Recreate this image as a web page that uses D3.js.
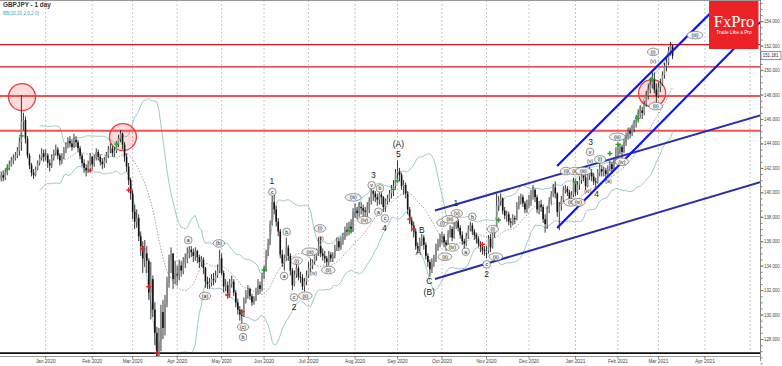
<!DOCTYPE html>
<html><head><meta charset="utf-8">
<script src="https://cdn.jsdelivr.net/npm/d3@7/dist/d3.min.js"></script>
<style>body{margin:0;background:#fff}svg{display:block}text{font-family:Arial,"Liberation Sans",sans-serif}</style>
</head><body><svg id="c" width="782" height="366"></svg>
<script>
// ---------- DATA ----------
const symbol = "GBPJPY - 1 day";
const indicatorName = "BB(20,20,2,0,2.0)";
const startDate = "2019-12-02";
const endAxisDate = "2021-04-30";
const firstOpen = 141.1;
const closes = [
141.4,141.2,141.6,142.0,142.3,142.6,142.8,143.0,143.4,144.1,145.8,145.9,144.4,143.0,142.2,141.6,141.4,141.9,142.4,142.8,143.2,142.9,
143.0,142.4,142.2,142.8,143.2,143.5,143.0,142.6,142.9,143.4,143.8,144.2,144.0,143.7,144.3,144.1,143.6,143.0,142.4,142.0,141.8,142.3,142.9,
142.3,142.8,143.3,142.9,142.5,142.3,142.6,143.0,143.5,143.6,143.2,143.4,143.9,144.4,144.8,143.9,142.9,142.1,141.0,139.9,
138.4,137.6,137.9,136.4,135.6,134.6,135.0,134.4,131.8,132.9,130.4,128.5,126.0,127.8,130.2,128.9,130.9,132.6,134.5,135.0,132.9,133.3,
133.2,134.0,133.6,134.2,134.6,135.0,135.3,135.1,134.8,135.2,134.7,134.3,134.5,133.8,132.7,132.5,132.6,132.9,132.8,133.2,133.6,134.6,
133.4,132.3,132.4,131.7,132.5,132.7,131.8,131.0,130.4,130.0,129.9,131.2,131.6,132.1,131.5,131.0,131.2,131.9,132.4,132.1,133.2,
133.6,134.9,135.8,137.4,139.2,138.6,137.6,136.8,134.9,134.2,134.6,135.5,134.8,133.6,132.4,133.3,133.8,133.1,133.0,132.3,132.7,133.2,
133.8,134.0,134.3,134.8,135.0,135.6,135.0,134.8,134.6,134.3,134.9,134.6,134.8,135.4,136.0,135.5,136.0,136.3,136.9,136.8,137.2,137.0,138.4,
138.5,138.3,138.8,138.7,138.5,138.4,138.6,139.3,140.1,139.9,139.6,139.4,139.8,139.6,138.8,139.3,139.5,139.9,140.3,140.5,141.6,
141.7,141.4,140.5,140.6,139.9,138.6,137.7,137.3,136.8,135.6,135.4,136.0,136.3,135.7,134.8,134.3,133.7,134.2,134.6,135.5,135.8,136.3,
136.4,135.9,135.7,136.6,137.0,136.3,137.2,137.6,137.1,136.5,136.0,135.8,136.4,137.0,137.3,136.8,136.5,136.2,135.8,135.6,135.3,135.2,
135.2,136.2,135.5,136.6,136.9,138.9,139.3,139.5,138.5,138.1,138.2,137.6,137.5,137.9,137.8,138.9,139.3,139.6,139.1,138.6,139.0,
139.2,139.8,140.2,139.6,138.6,139.0,138.8,137.8,137.4,138.6,139.3,139.8,140.4,139.9,138.4,138.9,139.4,140.2,140.3,140.0,139.3,139.8,140.9,
140.0,140.6,141.0,141.4,141.2,140.5,141.4,141.6,141.3,140.9,140.8,141.6,141.9,141.7,141.8,141.5,141.9,142.3,141.9,142.5,142.9,
143.4,143.7,143.3,144.1,144.6,145.0,144.8,145.2,145.6,145.9,146.3,146.7,146.5,147.2,147.9,148.4,148.8,149.3,148.4,147.9,
148.6,148.9,149.6,150.3,150.6,151.6,152.0,151.18];
const highs = [
141.7,141.8,141.9,142.3,142.6,142.9,143.1,143.3,143.7,144.5,147.96,146.5,146.2,144.6,143.2,142.4,141.9,142.1,142.6,143.1,143.6,143.5,
143.5,143.2,142.7,143.1,143.5,143.9,143.7,143.2,143.2,143.7,144.1,144.5,144.6,144.3,144.8,144.6,144.3,143.8,143.2,142.7,142.3,142.6,143.2,
143.0,143.1,143.6,143.5,143.1,142.8,142.9,143.3,143.8,144.0,143.8,143.7,144.2,144.7,145.1,144.9,144.1,143.2,142.4,141.2,
140.2,139.0,138.6,138.2,136.8,136.0,136.1,135.6,134.6,134.3,133.2,131.0,129.0,128.9,130.8,131.2,131.6,133.1,134.9,135.5,134.7,134.4,
134.0,134.5,134.4,134.7,135.0,135.5,135.6,135.6,135.4,135.5,135.3,134.9,134.8,134.7,133.9,133.1,133.0,133.3,133.4,133.6,134.1,135.3,
135.0,133.6,132.9,132.7,132.9,133.2,132.9,132.0,131.3,130.7,130.4,131.4,132.0,132.4,132.2,131.7,131.5,132.2,132.9,132.7,133.4,
134.0,135.3,136.2,137.7,139.7,139.8,138.9,137.9,137.0,135.3,134.9,136.3,135.7,135.0,133.8,133.6,134.3,134.0,133.5,133.3,133.0,133.6,
134.3,134.6,134.5,135.2,135.4,136.3,136.4,135.4,135.2,134.8,135.2,135.1,135.1,135.7,136.3,136.3,136.4,136.7,137.2,137.5,137.6,137.8,138.7,
139.1,138.8,139.2,139.2,139.0,138.8,139.2,139.6,140.3,140.2,140.1,139.9,140.0,140.0,139.7,139.5,139.8,140.2,140.6,141.0,141.9,
142.6,142.0,141.6,141.0,140.8,140.1,138.8,138.0,137.6,137.0,135.9,136.3,136.6,136.5,135.9,135.0,134.5,134.6,134.9,135.8,136.2,136.6,
136.8,136.6,136.1,136.9,137.3,137.2,137.5,138.0,137.8,137.3,136.8,136.2,136.7,137.3,137.6,137.5,137.0,136.7,136.4,136.0,135.9,135.6,
135.6,136.5,136.6,136.9,137.2,139.9,139.7,139.9,139.6,138.8,138.5,138.4,137.9,138.2,138.1,139.2,139.7,139.9,139.8,139.3,139.4,
139.8,140.2,140.6,140.3,139.8,139.3,139.4,139.0,138.2,138.9,139.6,140.1,140.7,140.9,140.0,139.2,139.7,140.5,140.6,140.5,140.2,140.1,141.2,
141.1,140.9,141.3,141.8,141.9,141.4,141.7,142.1,141.9,141.6,141.2,141.9,142.4,142.2,142.1,142.0,142.2,142.6,142.5,142.8,143.7,
143.9,144.0,143.9,144.4,144.9,145.3,145.3,145.5,145.9,146.3,146.8,147.1,147.0,147.5,148.3,148.9,149.4,150.0,149.8,148.9,
149.0,149.3,149.9,150.6,151.0,151.9,152.3,152.1];
const lows = [
140.9,140.9,141.0,141.4,141.8,142.1,142.3,142.6,142.8,143.0,143.4,145.1,144.0,142.8,141.9,141.3,141.1,141.3,141.8,142.2,142.6,142.5,
142.6,142.0,141.7,142.0,142.6,143.0,142.7,142.2,142.3,142.7,143.2,143.6,143.7,143.4,143.6,143.7,143.3,142.7,142.1,141.6,141.3,141.6,142.1,
141.9,142.1,142.6,142.6,142.2,141.9,142.0,142.4,142.8,143.2,142.9,142.9,143.2,143.7,144.1,143.5,142.5,141.7,140.6,139.4,
137.8,137.0,137.1,136.0,134.8,133.4,133.9,133.4,131.2,129.6,129.8,127.5,124.5,123.9,127.0,128.0,128.3,130.6,132.2,133.4,132.1,132.5,
132.4,132.8,133.1,133.3,133.8,134.2,134.6,134.7,134.3,134.4,134.2,133.8,133.9,133.3,132.2,132.1,132.1,132.3,132.4,132.6,133.0,133.4,
133.2,131.8,131.9,131.3,131.4,132.2,131.5,130.6,130.0,129.5,129.3,129.8,130.9,131.3,131.2,130.7,130.8,131.1,131.6,131.7,131.9,
132.9,133.5,134.8,135.7,137.3,138.2,137.2,136.4,134.6,133.9,133.6,134.4,134.4,133.2,132.0,132.3,133.0,132.8,132.6,132.0,131.9,132.4,
133.0,133.5,133.7,134.1,134.4,134.8,134.7,134.4,134.2,133.9,134.0,134.3,134.3,134.6,135.2,135.2,135.3,135.7,136.1,136.4,136.5,136.7,136.8,
137.9,137.8,138.0,138.2,137.9,137.9,138.0,138.3,139.0,139.3,139.2,138.9,139.0,139.0,138.4,138.4,139.0,139.2,139.5,139.7,140.3,
141.0,140.9,140.2,139.8,139.5,138.2,137.4,136.8,136.3,135.3,135.0,135.2,135.6,135.3,134.5,133.9,133.1,133.4,133.9,134.3,135.2,135.5,
135.8,135.5,135.2,135.6,136.3,136.0,136.2,137.0,136.8,136.2,135.7,135.4,135.6,136.2,136.8,136.5,136.1,135.8,135.5,135.1,134.9,134.8,
134.6,135.0,135.1,135.4,136.3,136.8,138.5,138.9,138.2,137.8,137.6,137.3,137.1,137.3,137.4,137.7,138.6,139.0,138.8,138.3,138.3,
138.7,138.9,139.4,139.2,138.3,138.2,138.4,137.5,136.7,137.0,138.3,139.0,139.6,139.5,138.0,136.9,138.5,139.2,139.9,139.7,139.0,139.1,139.6,
139.7,139.8,140.2,140.7,140.9,140.2,140.4,141.0,140.9,140.6,140.4,140.7,141.3,141.3,141.3,141.1,141.2,141.7,141.5,141.8,142.3,
142.8,143.1,142.8,143.2,143.8,144.3,144.4,144.6,144.9,145.3,145.7,146.1,146.0,146.3,147.0,147.6,148.1,148.5,148.1,147.3,
147.7,148.2,148.7,149.3,149.9,150.4,151.2,150.9];
const yTicks = [128,130,132,134,136,138,140,142,144,146,148,150,152,154];
const lastPrice = 151.181;
const redLevels = [152.08, 150.26, 147.89, 145.03];
const bottomLevel = 126.85;
// trend lines: [barIndex, price] pairs
const trendLines = [
  {a:[214.5,138.51], b:[375.3,146.29], kind:"navy"},
  {a:[214.5,132.91], b:[375.3,140.82], kind:"navy"},
  {a:[274.9,142.15], b:[357.0,155.70], kind:"blue"},
  {a:[274.9,137.08], b:[375.3,153.92], kind:"blue"}
];
const markCircles = [[10.3,147.79],[60.2,144.52],[321.9,148.11]];
const greenMarks = [[3,141.92],[10,144.62],[57,143.94],[130,133.64],[173,136.83],[194,140.24],[196,140.94],[246,137.73],[284,140.86],[288,141.55],[301,143.18],[305,143.92],[315,146.05],[322,149.23]];
const redMarks = [[44,141.82],[63,140.18],[70,135.36],[73,132.28],[77,126.86],[112,131.6],[119,130.23],[202,137.81],[204,137.0],[238,135.74]];
const waveBig = [
  ["1",133.9,140.92],["2",144.8,130.59],["3",184.0,141.43],["4",189.5,137.10],["(A)",196.4,143.92],["5",196.4,143.13],
  ["B",208.0,136.91],["A",206.3,135.14],["C",211.7,132.78],["(B)",211.7,131.82],["1",224.8,139.10],["2",240.1,133.31],
  ["3",291.5,144.13],["4",294.5,139.86]];
const waveSmall = [
  ["a",92.5,136.09,1],["(b)",107.7,135.82,1],["(a)",100.8,131.52,1],["(c)",119.6,128.98,1],["b",119.6,128.16,1],
  ["c",134.1,140.04,1],["b",141.2,136.77,1],["a",139.9,133.15,1],["c",144.8,131.41,1],["(i)",146.1,134.40,1],
  ["(iii)",152.7,135.14,1],["(iv)",154.4,133.37,0],["(ii)",150.4,131.54,1],["(i)",157.7,137.05,1],["(v)",158.0,136.28,0],
  ["(ii)",161.8,133.64,1],["(iii)",174.1,139.59,1],["(iv)",179.6,137.73,1],["v",183.2,140.59,1],["b",187.3,140.32,1],
  ["a",186.5,138.41,1],["c",189.8,137.87,1],["(i)",218.2,137.51,1],["(iii)",221.9,137.79,1],["(v)",225.3,138.28,1],
  ["(iv)",223.1,135.50,1],["(ii)",219.5,134.73,1],["b",233.0,138.00,1],["a",229.7,135.14,1],["c",240.1,134.11,1],
  ["(i)",243.1,136.99,1],["(ii)",244.6,134.73,1],["v",291.2,143.31,1],["(v)",291.2,142.58,0],["(i)",296.1,142.69,1],
  ["(iii)",304.7,144.54,1],["(iv)",306.9,142.50,1],["(a)",300.3,140.94,0],["(iv)",290.1,140.13,0],["(i)",279.3,141.74,1],
  ["(ii)",283.8,141.74,1],["(iii)",287.9,141.74,1],["(ii)",281.7,139.18,1],["(iv)",285.4,139.18,1],
  ["(i)",322.4,151.49,1],["(v)",322.4,150.73,0],["(ii)",323.7,147.05,1],["(iii)",343.1,152.86,1]];

// ---------- BUILD ----------
const W = 782, H = 366, plotR = 760, plotB = 356;
const svg = d3.select("#c");
const parse = d3.timeParse("%Y-%m-%d");
const allDays = d3.timeDay.range(parse(startDate), parse(endAxisDate)).filter(d => d.getDay() !== 0 && d.getDay() !== 6);
const bars = closes.map((c, i) => {
  const o = i === 0 ? firstOpen : closes[i-1];
  return {i, date: allDays[i], o, c, h: Math.max(highs[i], o, c), l: Math.min(lows[i], o, c)};
});

const x = d3.scaleLinear().domain([0, 348]).range([1.2, 704.9]);
const y = d3.scaleLinear().domain([128, 154]).range([339, 21.2]);

svg.append("defs").append("clipPath").attr("id","clip").append("rect")
  .attr("x",0).attr("y",0).attr("width",plotR).attr("height",plotB);
const g = svg.append("g").attr("clip-path","url(#clip)");

// month gridlines
const monthStarts = [];
allDays.forEach((d, i) => { if (i > 0 && d.getMonth() !== allDays[i-1].getMonth()) monthStarts.push({d, i}); });
g.selectAll("line.grid").data(monthStarts).join("line")
  .attr("x1", m => x(m.i)).attr("x2", m => x(m.i)).attr("y1", 0).attr("y2", plotB)
  .attr("stroke", "#b8b8b8").attr("stroke-width", 0.8).attr("stroke-dasharray", "2,2");
g.append("line").attr("x1",750).attr("x2",750).attr("y1",0).attr("y2",plotB)
  .attr("stroke","#b8b8b8").attr("stroke-width",0.8).attr("stroke-dasharray","2,2");

// Bollinger bands from closes
const N = 20;
const bb = [];
for (let i = N-1; i < closes.length; i++) {
  const win = closes.slice(i-N+1, i+1);
  const m = d3.mean(win);
  const sd = Math.sqrt(d3.mean(win.map(v => (v-m)*(v-m))));
  bb.push({i, m, u: m + 2*sd, l: m - 2*sd});
}
const lineOf = key => d3.line().x(d => x(d.i)).y(d => y(d[key]));
g.append("path").datum(bb).attr("d", lineOf("u")).attr("fill","none").attr("stroke","#9cc9cc").attr("stroke-width",1);
g.append("path").datum(bb).attr("d", lineOf("l")).attr("fill","none").attr("stroke","#9cc9cc").attr("stroke-width",1);
g.append("path").datum(bb).attr("d", lineOf("m")).attr("fill","none").attr("stroke","#8a8a8a").attr("stroke-width",0.8).attr("stroke-dasharray","1.5,1.5");

// red horizontal levels
g.selectAll("line.lvl").data(redLevels).join("line")
  .attr("x1",0).attr("x2",plotR).attr("y1",d=>y(d)).attr("y2",d=>y(d))
  .attr("stroke",(d,i)=> i<2 ? "#e3161c" : "#f65050").attr("stroke-width",(d,i)=> i<2 ? 1.3 : 2);
g.append("line").attr("x1",0).attr("x2",plotR).attr("y1",y(bottomLevel)).attr("y2",y(bottomLevel))
  .attr("stroke","#111").attr("stroke-width",1.8);

// circles
g.selectAll("circle.mk").data(markCircles).join("circle")
  .attr("cx",d=>x(d[0])).attr("cy",d=>y(d[1])).attr("r",13.5)
  .attr("fill","rgba(255,60,60,0.18)").attr("stroke","#f03a3a").attr("stroke-width",1.3);

// bars
const bg = g.append("g");
bars.forEach(b => {
  const cx = x(b.i);
  bg.append("line").attr("x1",cx).attr("x2",cx).attr("y1",y(b.h)).attr("y2",y(b.l))
    .attr("stroke","#222").attr("stroke-width",0.9);
  const top = y(Math.max(b.o,b.c)), bot = y(Math.min(b.o,b.c));
  bg.append("rect").attr("x",cx-0.8).attr("y",top).attr("width",1.6).attr("height",Math.max(0.8,bot-top))
    .attr("fill", b.c >= b.o ? "#8c8c8c" : "#111");
});

// trend lines
g.selectAll("line.tl").data(trendLines).join("line")
  .attr("x1",d=>x(d.a[0])).attr("y1",d=>y(d.a[1])).attr("x2",d=>x(d.b[0])).attr("y2",d=>y(d.b[1]))
  .attr("stroke",d=>d.kind==="navy" ? "#2a2eaa" : "#0a14ff").attr("stroke-width",d=>d.kind==="navy"?2:2.2);

// markers
function plus(sel, data, col){
  sel.selectAll(null).data(data).join("path")
    .attr("d", d => { const cx=x(d[0]), cy=y(d[1]); return `M${cx-2.5},${cy}H${cx+2.5}M${cx},${cy-2.5}V${cy+2.5}`; })
    .attr("stroke", col).attr("stroke-width", 1.4);
}
plus(g.append("g"), greenMarks, "#1fa51f");
plus(g.append("g"), redMarks, "#e02020");

// wave labels
const wl = g.append("g");
waveSmall.forEach(([t,i,p,c]) => {
  const cx = x(i), cy = y(p);
  if (c) {
    const rx = t.length === 1 ? 3.8 : 2.2 + t.length*1.15;
    wl.append("ellipse").attr("cx",cx).attr("cy",cy).attr("rx",rx).attr("ry",3.8)
      .attr("fill","#f4f4f4").attr("stroke","#555").attr("stroke-width",0.6);
  }
  wl.append("text").attr("x",cx).attr("y",cy+1.9).attr("text-anchor","middle")
    .attr("font-size",5.2).attr("fill","#222").text(t);
});
waveBig.forEach(([t,i,p]) => {
  wl.append("text").attr("x",x(i)).attr("y",y(p)+3).attr("text-anchor","middle")
    .attr("font-size",8.5).attr("fill","#222").text(t);
});

// FxPro box
svg.append("rect").attr("x",709).attr("y",0).attr("width",49.5).attr("height",49).attr("fill","#ec2227");
svg.append("text").attr("x",734).attr("y",27).attr("text-anchor","middle").attr("fill","#fff")
  .attr("font-size",16.5).style("font-family","'Liberation Serif','DejaVu Serif',serif").text("FxPro");
svg.append("text").attr("x",734).attr("y",34).attr("text-anchor","middle").attr("fill","#fff")
  .attr("font-size",4.8).text("Trade Like a Pro");

// frame
svg.append("line").attr("x1",0).attr("x2",plotR).attr("y1",0.5).attr("y2",0.5).attr("stroke","#999").attr("stroke-width",1);
svg.append("line").attr("x1",0).attr("x2",plotR).attr("y1",plotB+0.5).attr("y2",plotB+0.5).attr("stroke","#999").attr("stroke-width",1);

// right axis
const minor = d3.range(126, 156.01, 0.5);
const ax2 = svg.append("g").attr("transform",`translate(${plotR+0.5},0)`)
  .call(d3.axisRight(y).tickValues(minor).tickSize(2).tickFormat(""));
ax2.select(".domain").remove();
ax2.selectAll("line").attr("stroke","#777");
const ax = svg.append("g").attr("transform",`translate(${plotR+0.5},0)`)
  .call(d3.axisRight(y).tickValues(yTicks).tickSize(3).tickPadding(0.6).tickFormat(d3.format(".3f")));
ax.select(".domain").attr("d",`M0,0V${plotB+5}`).attr("stroke","#888");
ax.selectAll("line").attr("stroke","#777");
ax.selectAll("text").attr("font-size",4.6).attr("fill","#444")
  .attr("textLength",15.5).attr("lengthAdjust","spacingAndGlyphs")
  .style("font-family","Arial,'Liberation Sans',sans-serif");

// last price box
svg.append("rect").attr("x",plotR+1).attr("y",y(lastPrice)-4).attr("width",20).attr("height",8)
  .attr("fill","#fff").attr("stroke","#666").attr("stroke-width",0.7);
svg.append("text").attr("x",plotR+2.8).attr("y",y(lastPrice)+1.8).attr("font-size",4.6).attr("fill","#222")
  .attr("textLength",15.5).attr("lengthAdjust","spacingAndGlyphs").text(d3.format(".3f")(lastPrice));

// x-axis month labels
const fmt = d3.timeFormat("%b %Y");
const shown = monthStarts.filter(m => x(m.i) < 740);
svg.selectAll("text.mon").data(shown).join("text")
  .attr("x", m => x(m.i) - 10).attr("y", 363)
  .attr("font-size",5.6).attr("fill","#444")
  .attr("textLength",20).attr("lengthAdjust","spacingAndGlyphs").text(m => fmt(m.d));
svg.selectAll("line.mt").data(shown).join("line")
  .attr("x1", m => x(m.i)).attr("x2", m => x(m.i)).attr("y1", plotB).attr("y2", plotB+2.5).attr("stroke","#777");

// title
svg.append("text").attr("x",3).attr("y",7).attr("font-size",6.4).attr("font-weight","bold").attr("fill","#333").text(symbol);
svg.append("text").attr("x",3).attr("y",14.5).attr("font-size",4.6).attr("fill","#4aa6b0").text(indicatorName);
</script></body></html>
